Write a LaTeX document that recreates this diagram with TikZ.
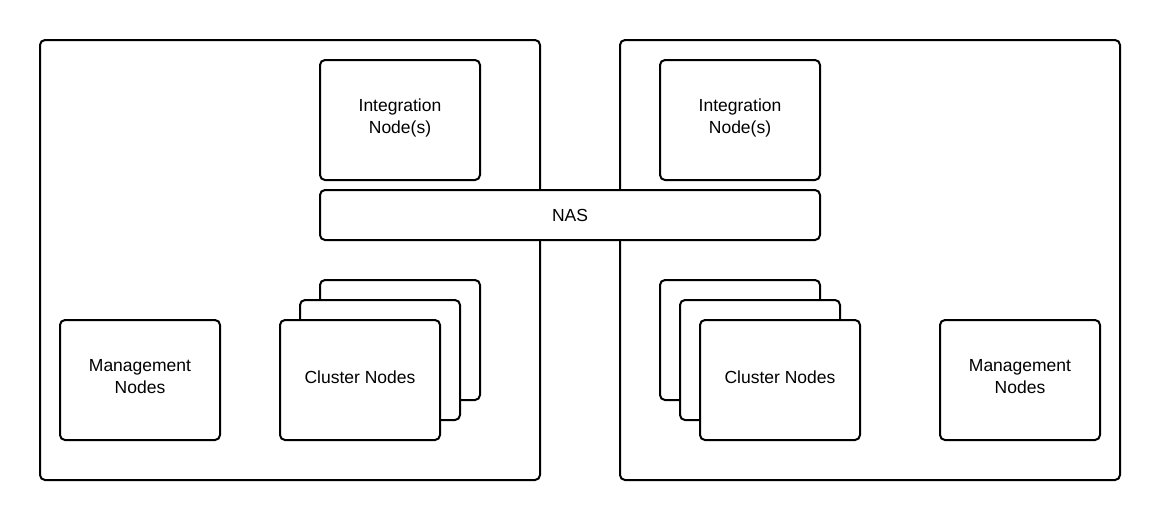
\documentclass[tikz,border=0pt]{standalone}
\usepackage{fontspec}
\setmainfont{Liberation Sans}
\begin{document}
\begin{tikzpicture}[x=1pt,y=-1pt,
  box/.style={draw=black,line width=2pt,rounded corners=5pt,fill=white},
  lbl/.style={font=\fontsize{17.5}{22}\selectfont,align=center}]
\useasboundingbox (0,0) rectangle (1160,520);
% outer containers
\draw[box] (40,40) rectangle (540,480);
\draw[box] (620,40) rectangle (1120,480);
% integration nodes
\draw[box] (320,60) rectangle (480,180);
\node[lbl] (intL) at (400,117.5) {Integration\\Node(s)};
\draw[box] (660,60) rectangle (820,180);
\node[lbl] (intR) at (740,117.5) {Integration\\Node(s)};
% NAS
\draw[box] (320,190) rectangle (820,240);
\node[lbl] (nas) at (570,215.5) {NAS};
% left cluster stack
\draw[box] (320,280) rectangle (480,400);
\draw[box] (300,300) rectangle (460,420);
\draw[box] (280,320) rectangle (440,440);
\node[lbl] (clL) at (360,377.5) {Cluster Nodes};
% left management
\draw[box] (60,320) rectangle (220,440);
\node[lbl] (mgL) at (140,377) {Management\\Nodes};
% right cluster stack
\draw[box] (660,280) rectangle (820,400);
\draw[box] (680,300) rectangle (840,420);
\draw[box] (700,320) rectangle (860,440);
\node[lbl] (clR) at (780,377.5) {Cluster Nodes};
% right management
\draw[box] (940,320) rectangle (1100,440);
\node[lbl] (mgR) at (1020,377) {Management\\Nodes};
\end{tikzpicture}
\end{document}
